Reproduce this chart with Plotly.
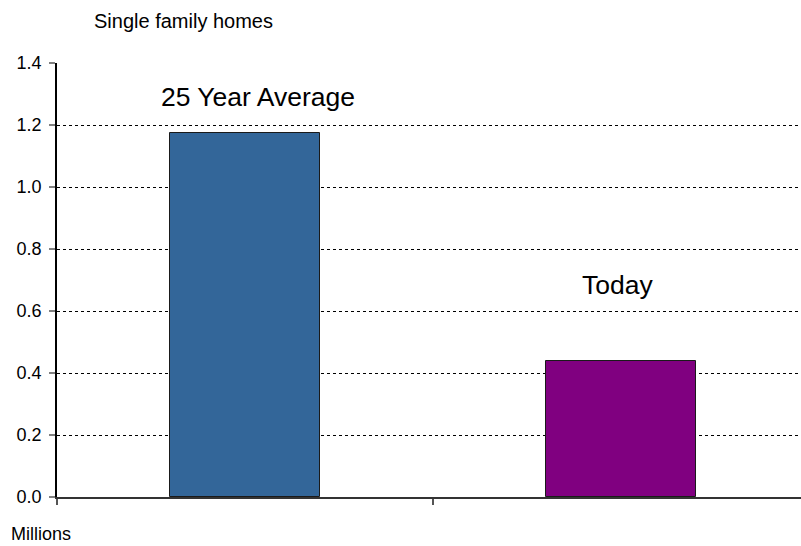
import plotly.graph_objects as go

# Housing starts: long-run average vs. current level (millions of units)
categories = ["25 Year Average", "Today"]
values = [1.175, 0.44]
colors = ["#336699", "#800080"]
y_ticks = [0.0, 0.2, 0.4, 0.6, 0.8, 1.0, 1.2, 1.4]

x_pos = list(range(len(categories)))

fig = go.Figure()
fig.add_trace(go.Bar(
    x=x_pos,
    y=values,
    width=0.4,
    marker=dict(color=colors, line=dict(color="#1a1a1a", width=1)),
    hoverinfo="skip",
))

# Category labels floating above each bar
label_offsets = [0.115, 0.245]
label_dx = [0.035, -0.01]
for xi, (name, v, off, dx) in enumerate(zip(categories, values, label_offsets, label_dx)):
    fig.add_annotation(
        x=xi + dx, y=v + off, text=name,
        showarrow=False, font=dict(size=26.5, color="black"),
        xanchor="center", yanchor="middle",
    )

font_family = "Liberation Sans, Arial, sans-serif"

fig.update_layout(
    width=801, height=546,
    margin=dict(l=57, r=0, t=63, b=49),
    paper_bgcolor="white", plot_bgcolor="white",
    font=dict(family=font_family, color="black"),
    showlegend=False,
    bargap=0,
    xaxis=dict(
        range=[-0.5, 1.479],
        tickvals=[-0.5, 0.5],
        ticktext=["", ""],
        ticks="outside", ticklen=6, tickcolor="#555555", tickwidth=1.5,
        showgrid=False, zeroline=False,
        showline=True, linecolor="#333333", linewidth=1.5,
        fixedrange=True,
    ),
    yaxis=dict(
        range=[0, 1.4],
        tickvals=y_ticks,
        tickformat=".1f",
        ticks="outside", ticklen=6, tickcolor="#808080", tickwidth=1.5,
        ticklabelstandoff=4,
        tickfont=dict(size=18),
        showgrid=True, gridcolor="black", griddash="3px,3px", gridwidth=1,
        zeroline=False,
        showline=True, linecolor="black", linewidth=1.5,
        fixedrange=True,
    ),
    annotations=list(fig.layout.annotations) + [
        dict(text="Single family homes", xref="paper", yref="paper",
             x=0.047, y=1.0, xanchor="left", yanchor="middle", yshift=42,
             showarrow=False, font=dict(size=20)),
        dict(text="Millions", xref="paper", yref="paper",
             x=-0.064, y=0.0, xanchor="left", yanchor="middle", yshift=-37,
             showarrow=False, font=dict(size=18)),
    ],
)

fig.write_html("out.html")
